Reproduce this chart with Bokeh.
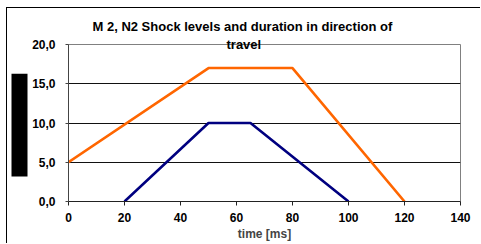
from bokeh.plotting import figure
from bokeh.models import FixedTicker, Range1d, Title
from bokeh.embed import file_html
from bokeh.resources import INLINE

title_line1 = "M 2, N2 Shock levels and duration in direction of"
title_line2 = "travel"
x_label = "time [ms]"
m2_time = [0, 50, 80, 120]
m2_level = [5, 17, 17, 0]
n2_time = [20, 50, 65, 100]
n2_level = [0, 10, 10, 0]
x_ticks = [0, 20, 40, 60, 80, 100, 120, 140]
y_ticks = [0, 5, 10, 15, 20]
y_tick_labels = ["0,0", "5,0", "10,0", "15,0", "20,0"]

FONT = "Liberation Sans"

p = figure(width=474, height=236, output_backend="svg", toolbar_location=None,
           x_range=Range1d(0, 140), y_range=Range1d(0, 20),
           min_border_left=61, min_border_right=21, min_border_top=32, min_border_bottom=43)
p.styles = {"border-top": "1px solid black", "border-left": "1px solid black",
            "margin-left": "6px", "margin-top": "7px"}
p.background_fill_color = "white"
p.border_fill_color = "white"
p.outline_line_color = "#808080"
p.outline_line_width = 1

p.line(m2_time, m2_level, line_color="#FF6600", line_width=2.6)
p.line(n2_time, n2_level, line_color="#000080", line_width=2.6)

p.xgrid.visible = False
p.ygrid.ticker = FixedTicker(ticks=[5, 10, 15])
p.ygrid.grid_line_color = "#111111"
p.ygrid.grid_line_width = 1

for ax in (p.xaxis[0], p.yaxis[0]):
    ax.major_label_text_font = FONT
    ax.major_label_text_font_style = "bold"
    ax.major_label_text_font_size = "12px"
    ax.major_label_text_color = "black"
    ax.minor_tick_line_color = None
    ax.major_tick_in = 0

p.xaxis.ticker = FixedTicker(ticks=x_ticks)
p.xaxis.axis_line_color = "#222222"
p.xaxis.major_tick_line_color = "#222222"
p.xaxis.major_tick_out = 4
p.xaxis.major_label_standoff = 7
p.xaxis.axis_label = x_label
p.xaxis.axis_label_text_font = FONT
p.xaxis.axis_label_text_font_style = "bold"
p.xaxis.axis_label_text_font_size = "12px"
p.xaxis.axis_label_standoff = 2

p.yaxis.ticker = FixedTicker(ticks=y_ticks)
p.yaxis.major_label_overrides = {t: s for t, s in zip(y_ticks, y_tick_labels)}
p.yaxis.axis_line_color = "#444444"
p.yaxis.major_tick_line_color = "#444444"
p.yaxis.major_tick_out = 3
p.yaxis.major_label_standoff = 10

# first title line (outermost)
p.title.text = title_line1
p.title.align = "left"
p.title.offset = 24
p.title.text_font = FONT
p.title.text_font_style = "bold"
p.title.text_font_size = "13px"
p.title.text_color = "black"
p.title.standoff = 16

# second title line (closest to the frame, overlapping its top edge)
p.add_layout(Title(text=title_line2, align="left", offset=158, text_font=FONT,
                   text_font_style="bold", text_font_size="13px", text_color="black",
                   standoff=-14), "above")

block = Title(text="\u2003" * 7 + "\u2004", text_font_size="14px", text_color="black",
              background_fill_color="black", align="left", standoff=4, offset=25)
p.add_layout(block, "left")

open("out.html", "w").write(file_html(p, INLINE))
